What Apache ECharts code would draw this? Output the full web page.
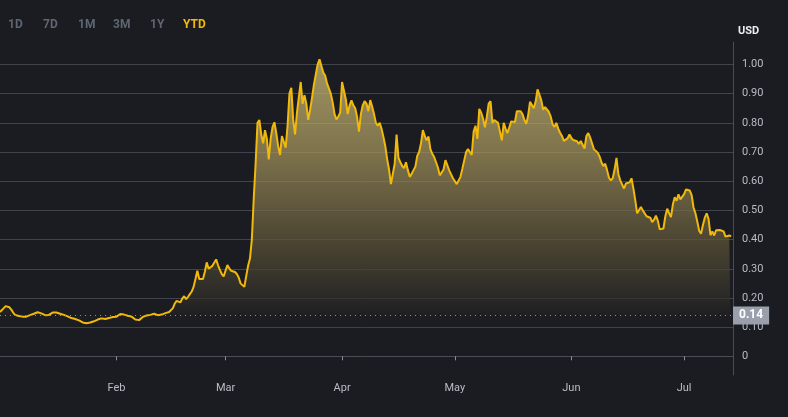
<!DOCTYPE html>
<html><head><meta charset="utf-8">
<script src="https://cdn.jsdelivr.net/npm/echarts@6/dist/echarts.min.js"></script>
<style>html,body{margin:0;padding:0;background:#1b1c21;}#c{width:788px;height:417px;}</style>
</head><body><div id="c"></div>
<script>
// ---- data ----
const seriesStart = '2024-01-01T00:00:00Z';
const stepHours = 12;
const prices = [
0.152,0.158,0.165,0.172,0.172,0.168,0.160,0.150,0.142,0.139,
0.138,0.137,0.136,0.135,0.136,0.139,0.141,0.144,0.146,0.148,
0.151,0.153,0.147,0.141,0.141,0.142,0.142,0.146,0.150,0.151,
0.150,0.148,0.146,0.144,0.142,0.139,0.137,0.134,0.131,0.130,
0.128,0.126,0.123,0.120,0.116,0.113,0.113,0.115,0.116,0.117,
0.120,0.123,0.126,0.128,0.130,0.129,0.128,0.128,0.131,0.133,
0.135,0.134,0.136,0.137,0.145,0.150,0.143,0.138,0.139,0.139,
0.136,0.131,0.126,0.122,0.124,0.130,0.135,0.138,0.140,0.141,
0.142,0.145,0.146,0.150,0.141,0.140,0.143,0.146,0.148,0.150,
0.152,0.156,0.165,0.181,0.190,0.189,0.185,0.198,0.206,0.196,
0.203,0.213,0.222,0.238,0.265,0.293,0.265,0.262,0.265,0.290,
0.322,0.300,0.305,0.310,0.316,0.332,0.312,0.296,0.282,0.274,
0.271,0.313,0.301,0.293,0.289,0.289,0.282,0.270,0.250,0.254,
0.238,0.275,0.310,0.335,0.400,0.540,0.660,0.800,0.810,0.760,
0.730,0.775,0.745,0.675,0.745,0.785,0.802,0.765,0.720,0.690,
0.755,0.760,0.715,0.790,0.900,0.920,0.810,0.760,0.835,0.830,
0.940,0.865,0.895,0.865,0.810,0.845,0.885,0.930,0.965,1.000,
1.018,0.995,0.972,0.962,0.935,0.940,0.900,0.870,0.830,0.812,
0.822,0.835,0.940,0.945,0.880,0.830,0.860,0.877,0.860,0.850,
0.820,0.770,0.830,0.860,0.874,0.866,0.840,0.878,0.856,0.830,
0.800,0.790,0.800,0.780,0.752,0.720,0.675,0.640,0.590,0.590,
0.660,0.760,0.680,0.665,0.652,0.645,0.665,0.638,0.615,0.625,
0.628,0.650,0.687,0.700,0.730,0.775,0.755,0.740,0.753,0.710,
0.694,0.683,0.665,0.647,0.620,0.614,0.640,0.672,0.655,0.637,
0.640,0.610,0.608,0.590,0.590,0.615,0.643,0.648,0.700,0.710,
0.700,0.690,0.770,0.790,0.745,0.848,0.835,0.815,0.785,0.820,
0.866,0.874,0.800,0.810,0.810,0.800,0.770,0.740,0.800,0.780,
0.765,0.785,0.805,0.800,0.803,0.840,0.835,0.840,0.830,0.810,
0.797,0.825,0.872,0.868,0.850,0.873,0.915,0.897,0.877,0.845,
0.854,0.848,0.838,0.822,0.795,0.786,0.800,0.780,0.766,0.755,
0.738,0.742,0.747,0.760,0.748,0.741,0.740,0.737,0.728,0.738,
0.725,0.712,0.755,0.765,0.750,0.730,0.710,0.704,0.698,0.685,
0.665,0.652,0.660,0.638,0.612,0.603,0.610,0.640,0.680,0.625,
0.603,0.598,0.575,0.592,0.588,0.596,0.610,0.575,0.535,0.490,
0.485,0.512,0.500,0.504,0.480,0.482,0.475,0.460,0.468,0.482,
0.465,0.435,0.430,0.438,0.480,0.506,0.490,0.477,0.520,0.545,
0.533,0.555,0.538,0.540,0.556,0.572,0.577,0.568,0.552,0.510,
0.490,0.462,0.430,0.420,0.450,0.475,0.490,0.470,0.415,0.428,
0.414,0.432,0.427,0.433,0.428,0.428,0.410,0.405,0.414,0.411
];
const axisStart = '2024-01-01T00:00:00Z';
const axisEnd = '2024-07-14T00:00:00Z';
const monthTicks = ['2024-02-01T00:00:00Z','2024-03-01T00:00:00Z','2024-04-01T00:00:00Z','2024-05-01T00:00:00Z','2024-06-01T00:00:00Z','2024-07-01T00:00:00Z'];
const monthLabels = ['Feb','Mar','Apr','May','Jun','Jul'];
const yTicks = [0,0.1,0.2,0.3,0.4,0.5,0.6,0.7,0.8,0.9,1.0];
const yMin = -0.064, yMax = 1.077;
const rangeButtons = ['1D','7D','1M','3M','1Y','YTD'];
const activeRange = 'YTD';
const lastPrice = 0.14;
const unitLabel = 'USD';

// ---- build ----
const t0 = Date.parse(seriesStart);
const seriesData = prices.map((v, i) => [t0 + i * stepHours * 3600e3, v]);
const tickTimes = monthTicks.map(s => Date.parse(s));
const labelMap = {};
tickTimes.forEach((t, i) => labelMap[t] = monthLabels[i]);

const btnX = [8, 43, 78, 113, 150, 183];
const graphics = rangeButtons.map((b, i) => ({
  type: 'text', x: btnX[i], y: 25,
  style: { text: b, fill: b === activeRange ? '#f0b90b' : '#5e6673', font: 'bold 12px Roboto', textVerticalAlign: 'middle' }
}));
graphics.push({ type: 'text', x: 738, y: 31, style: { text: unitLabel, fill: '#eaecef', font: 'bold 11px Roboto', textVerticalAlign: 'middle' } });

const chart = echarts.init(document.getElementById('c'), null, { renderer: 'canvas' });
chart.setOption({
  backgroundColor: '#1b1c21',
  animation: false,
  textStyle: { fontFamily: 'Roboto' },
  grid: { left: 0, right: 55, top: 42, bottom: 42, containLabel: false, outerBoundsMode: 'none' },
  xAxis: {
    type: 'value', min: Date.parse(axisStart), max: Date.parse(axisEnd),
    axisLine: { show: true, lineStyle: { color: '#474d57', width: 1 } },
    axisTick: { show: true, length: 4, customValues: tickTimes, lineStyle: { color: '#8a9099' } },
    axisLabel: { customValues: tickTimes, formatter: v => labelMap[v] || '', color: '#b7bdc6', fontSize: 11, margin: 8, fontFamily: 'Roboto' },
    splitLine: { show: false }
  },
  yAxis: {
    type: 'value', position: 'right', min: yMin, max: yMax,
    axisLine: { show: true, lineStyle: { color: '#474d57', width: 1 } },
    axisTick: { show: false, customValues: yTicks },
    axisLabel: { customValues: yTicks, formatter: v => v === 0 ? '0' : v.toFixed(2), color: '#b7bdc6', fontSize: 11, margin: 9, fontFamily: 'Roboto' },
    splitLine: { show: true, lineStyle: { color: '#40444c', width: 1 } }
  },
  graphic: graphics,
  series: [{
    type: 'line', data: seriesData, symbol: 'none', smooth: false,
    lineStyle: { color: '#f0b90b', width: 2 },
    itemStyle: { color: '#f0b90b' },
    areaStyle: {
      origin: 'start',
      color: { type: 'linear', x: 0, y: 0, x2: 0, y2: 1, colorStops: [
        { offset: 0, color: '#dcc97f' },
        { offset: 0.3, color: '#a8975d' },
        { offset: 0.45, color: '#82754b' },
        { offset: 0.6, color: '#595136' },
        { offset: 0.76, color: '#302e29' },
        { offset: 0.86, color: 'rgba(27,28,33,0)' },
        { offset: 1, color: 'rgba(27,28,33,0)' }
      ] }
    },
    markLine: {
      silent: true, symbol: 'none', animation: false,
      data: [{ yAxis: lastPrice }],
      lineStyle: { color: '#8d939e', width: 1, type: [1, 4] },
      label: { show: true, position: 'end', distance: 0, formatter: lastPrice.toFixed(2), backgroundColor: '#9aa0ab', color: '#ffffff', fontWeight: 'bold', fontSize: 12, padding: [3, 6, 3, 6], fontFamily: 'Roboto' }
    }
  }]
});
</script></body></html>
